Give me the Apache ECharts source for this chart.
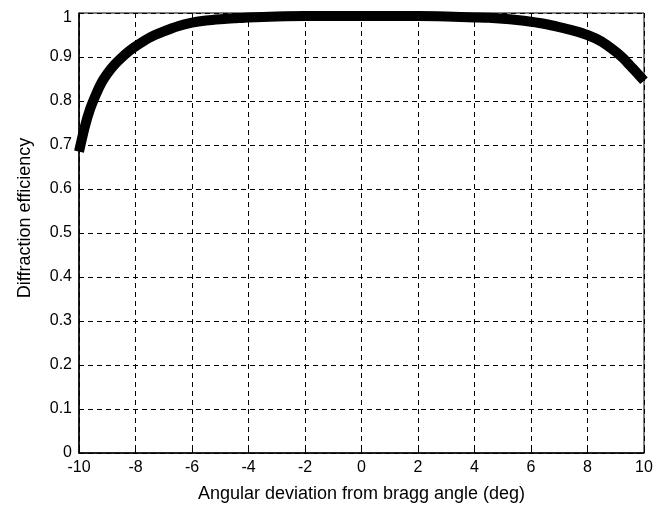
<!DOCTYPE html>
<html>
<head>
<meta charset="utf-8">
<script src="https://cdn.jsdelivr.net/npm/echarts@6/dist/echarts.min.js"></script>
<style>
  html, body { margin: 0; padding: 0; background: #fff; }
  #chart { width: 667px; height: 511px; }
</style>
</head>
<body>
<div id="chart"></div>
<script>
// Angular deviation from the Bragg angle (degrees)
const angleDeg = [-10, -9.8, -9.6, -9.4, -9.2, -9, -8.75, -8.5, -8.25, -8, -7.5, -7, -6.5, -6,
                  -5.5, -5, -4.5, -4, -3, -2, -1, 0, 1, 2, 3, 4, 4.5, 5, 5.5, 6, 6.5, 7, 7.5,
                  8, 8.5, 9, 9.25, 9.5, 9.75, 10];
// Diffraction efficiency at each angle
const efficiency = [0.685, 0.740, 0.783, 0.815, 0.842, 0.862, 0.882, 0.898, 0.912, 0.924, 0.944,
                    0.958, 0.970, 0.978, 0.983, 0.986, 0.988, 0.990, 0.992, 0.993, 0.993, 0.993,
                    0.993, 0.993, 0.992, 0.990, 0.989, 0.987, 0.984, 0.980, 0.975, 0.968, 0.960,
                    0.950, 0.935, 0.912, 0.898, 0.881, 0.864, 0.846];

const xTitle = 'Angular deviation from bragg angle (deg)';
const yTitle = 'Diffraction efficiency';

const points = angleDeg.map((a, i) => [a, efficiency[i]]);

const font = 'Liberation Sans, Arial, sans-serif';
const dashed = { color: '#000', width: 1, type: [5, 4] };

const chart = echarts.init(document.getElementById('chart'), null, { renderer: 'canvas' });
chart.setOption({
  animation: false,
  backgroundColor: '#fff',
  grid: {
    left: 79, right: 23, top: 13, bottom: 58,
    show: true, borderColor: '#000', borderWidth: 1, backgroundColor: 'transparent'
  },
  xAxis: {
    type: 'value', min: -10, max: 10, interval: 2,
    name: xTitle, nameLocation: 'middle', nameGap: 32,
    nameTextStyle: { color: '#000', fontFamily: font, fontSize: 18 },
    axisLine: { show: true, onZero: false, lineStyle: { color: '#000', width: 1.5 } },
    axisTick: { show: true, inside: true, length: 4, lineStyle: { color: '#000' } },
    axisLabel: { color: '#000', fontFamily: font, fontSize: 16, margin: 7 },
    splitLine: { show: true, lineStyle: dashed }
  },
  yAxis: {
    type: 'value', min: 0, max: 1, interval: 0.1,
    name: yTitle, nameLocation: 'middle', nameGap: 45, nameRotate: 90,
    nameTextStyle: { color: '#000', fontFamily: font, fontSize: 18, padding: [0, 0, 0, 30] },
    axisLine: { show: true, onZero: false, lineStyle: { color: '#000', width: 1.5 } },
    axisTick: { show: true, inside: true, length: 4, lineStyle: { color: '#000' } },
    axisLabel: {
      color: '#000', fontFamily: font, fontSize: 16, margin: 7,
      formatter: v => (v === 1 ? '{top|1}' : String(v)),
      rich: { top: { color: '#000', fontFamily: font, fontSize: 16, padding: [9, 0, 0, 0] } }
    },
    splitLine: { show: true, lineStyle: dashed }
  },
  series: [{
    type: 'line',
    data: points,
    smooth: 0.25,
    showSymbol: false,
    clip: true,
    lineStyle: { color: '#000', width: 10, cap: 'butt', join: 'round' }
  }]
});
</script>
</body>
</html>
